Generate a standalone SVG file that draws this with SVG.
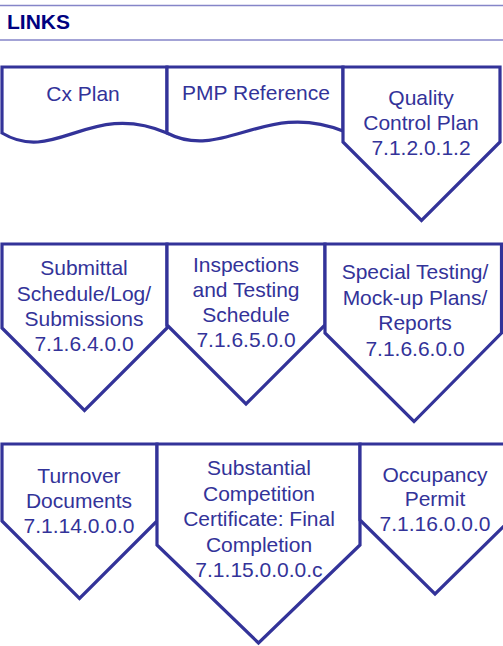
<svg xmlns="http://www.w3.org/2000/svg" width="503" height="646" viewBox="0 0 503 646">
<style>
.hdr{stroke:#8585c8;stroke-width:1.5;fill:none}
.title{font-family:"Liberation Sans",Arial,sans-serif;font-weight:bold;font-size:21px;fill:#000080}
.shape{fill:#ffffff;stroke:#333399;stroke-width:3.2;stroke-linejoin:miter}
.lbl{font-family:"Liberation Sans",Arial,sans-serif;font-size:21px;fill:#333399;text-anchor:middle}
</style>
<rect width="503" height="646" fill="#ffffff"/>
<g id="header">
<line class="hdr" x1="0" y1="5.5" x2="503" y2="5.5"/>
<line class="hdr" x1="0" y1="40" x2="503" y2="40"/>
<text class="title" x="7" y="28.5">LINKS</text>
</g>
<g id="connectors"></g>
<g id="cx-plan">
<path class="shape" d="M2,67 H167 V133 C90,100 55,165 2,133 Z"/>
<text class="lbl" x="83" y="100.5">Cx Plan</text>
</g>
<g id="pmp-reference">
<path class="shape" d="M167,67 H343 V131 C265,100 223,162 167,133 Z"/>
<text class="lbl" x="256" y="100">PMP Reference</text>
</g>
<g id="quality-control-plan">
<path class="shape" d="M343,67 H500 V142 L421.5,220.5 L343,142 Z"/>
<text class="lbl" x="421" y="105">Quality</text>
<text class="lbl" x="421" y="130">Control Plan</text>
<text class="lbl" x="421" y="155">7.1.2.0.1.2</text>
</g>
<g id="submittal">
<path class="shape" d="M2,244 H167 V328 L84.5,410.5 L2,328 Z"/>
<text class="lbl" x="84" y="275">Submittal</text>
<text class="lbl" x="84" y="300.5">Schedule/Log/</text>
<text class="lbl" x="84" y="325.5">Submissions</text>
<text class="lbl" x="84" y="350.5">7.1.6.4.0.0</text>
</g>
<g id="inspections">
<path class="shape" d="M167,244 H325 V325 L246,404 L167,325 Z"/>
<text class="lbl" x="246" y="271.5">Inspections</text>
<text class="lbl" x="246" y="296.8">and Testing</text>
<text class="lbl" x="246" y="322">Schedule</text>
<text class="lbl" x="246" y="347.3">7.1.6.5.0.0</text>
</g>
<g id="special-testing">
<path class="shape" d="M325,244 H501.5 V333 L414,421.5 L325,333 Z"/>
<text class="lbl" x="415" y="279.3">Special Testing/</text>
<text class="lbl" x="415" y="305">Mock-up Plans/</text>
<text class="lbl" x="415" y="330">Reports</text>
<text class="lbl" x="415" y="356">7.1.6.6.0.0</text>
</g>
<g id="turnover">
<path class="shape" d="M2,444 H157 V521 L79.5,598.5 L2,521 Z"/>
<text class="lbl" x="79" y="482.7">Turnover</text>
<text class="lbl" x="79" y="508">Documents</text>
<text class="lbl" x="79" y="533.3">7.1.14.0.0.0</text>
</g>
<g id="substantial-completion">
<path class="shape" d="M157,444 H360 V545 L258.5,643 L157,545 Z"/>
<text class="lbl" x="259" y="475">Substantial</text>
<text class="lbl" x="259" y="500.7">Competition</text>
<text class="lbl" x="259" y="526">Certificate: Final</text>
<text class="lbl" x="259" y="551.7">Completion</text>
<text class="lbl" x="259" y="576.7">7.1.15.0.0.0.c</text>
</g>
<g id="occupancy-permit">
<path class="shape" d="M360,444 H510 V520 L435,594 L360,520 Z"/>
<text class="lbl" x="435" y="481.7">Occupancy</text>
<text class="lbl" x="435" y="506">Permit</text>
<text class="lbl" x="435" y="531">7.1.16.0.0.0</text>
</g>
</svg>
